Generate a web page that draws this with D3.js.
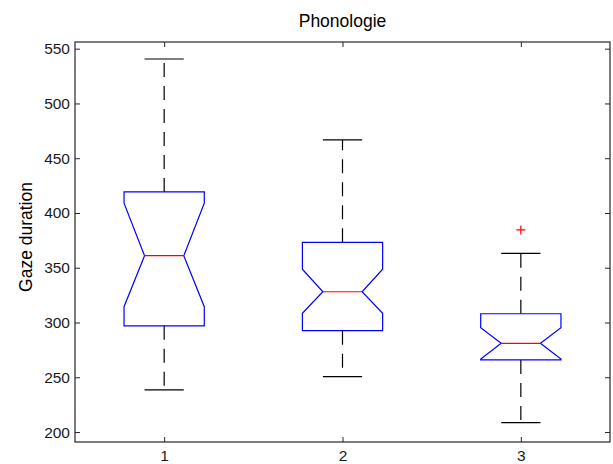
<!DOCTYPE html>
<html><head><meta charset="utf-8">
<script src="https://cdn.jsdelivr.net/npm/d3@7"></script>
<style>body{margin:0;background:#fff;} svg{display:block;}</style>
</head><body>
<svg id="c" width="613" height="464"></svg>
<script>
const categories = [1, 2, 3];
const q1 = [297, 292.5, 265.8];
const q3 = [419.2, 373.2, 308];
const medians = [361, 328.1, 281];
const notchLo = [314.4, 308.4, 266.7];
const notchHi = [408.9, 348.6, 295.3];
const whiskerLo = [238.4, 250.5, 208.5];
const whiskerHi = [540.6, 466.7, 363.2];
const outliers = [[], [], [384.5]];
const yTicks = [200, 250, 300, 350, 400, 450, 500, 550];
const title = "Phonologie";
const yLabel = "Gaze duration";

const svg = d3.select("#c");
const L = 75, R = 610, T = 42, B = 442;
const x = d3.scaleLinear().domain([0.5, 3.5]).range([L, R]);
const y = d3.scaleLinear().domain([190.9, 556.1]).range([B, T]);
const boxW = 0.225, notchW = 0.11, capW = 0.11;
const font = "'Liberation Sans', Arial, sans-serif";

svg.append("rect").attr("width", 613).attr("height", 464).attr("fill", "#fff");

// axes
const axisColor = "#262626";
const gL = svg.append("g").attr("transform", `translate(${L},0)`)
  .call(d3.axisLeft(y).tickValues(yTicks).tickSizeInner(-5).tickSizeOuter(0).tickPadding(5));
const gR = svg.append("g").attr("transform", `translate(${R},0)`)
  .call(d3.axisRight(y).tickValues(yTicks).tickSizeInner(-5).tickSizeOuter(0).tickFormat(""));
const gB = svg.append("g").attr("transform", `translate(0,${B})`)
  .call(d3.axisBottom(x).tickValues(categories).tickSizeInner(-5).tickSizeOuter(0).tickPadding(8).tickFormat(d3.format("d")));
const gT = svg.append("g").attr("transform", `translate(0,${T})`)
  .call(d3.axisTop(x).tickValues(categories).tickSizeInner(-5).tickSizeOuter(0).tickFormat(""));
[gL, gR, gB, gT].forEach(g => {
  g.selectAll(".domain").remove();
  g.selectAll("line").attr("stroke", axisColor);
  g.selectAll("text").attr("fill", "#1a1a1a").style("font-family", font).style("font-size", "15.5px");
});
svg.append("rect").attr("x", L).attr("y", T).attr("width", R - L).attr("height", B - T)
  .attr("fill", "none").attr("stroke", axisColor).attr("stroke-width", 1.2);

// boxes
categories.forEach((c, i) => {
  const g = svg.append("g");
  // whiskers
  g.append("line").attr("x1", x(c)).attr("x2", x(c)).attr("y1", y(q3[i])).attr("y2", y(whiskerHi[i]))
    .attr("stroke", "#000").attr("stroke-width", 1.2).attr("stroke-dasharray", "14,9");
  g.append("line").attr("x1", x(c)).attr("x2", x(c)).attr("y1", y(q1[i])).attr("y2", y(whiskerLo[i]))
    .attr("stroke", "#000").attr("stroke-width", 1.2).attr("stroke-dasharray", "14,9");
  // caps
  [whiskerHi[i], whiskerLo[i]].forEach(v => {
    g.append("line").attr("x1", x(c - capW)).attr("x2", x(c + capW)).attr("y1", y(v)).attr("y2", y(v))
      .attr("stroke", "#000").attr("stroke-width", 1.2);
  });
  // notched box
  const pts = [
    [c - boxW, q3[i]], [c + boxW, q3[i]], [c + boxW, notchHi[i]], [c + notchW, medians[i]],
    [c + boxW, notchLo[i]], [c + boxW, q1[i]], [c - boxW, q1[i]], [c - boxW, notchLo[i]],
    [c - notchW, medians[i]], [c - boxW, notchHi[i]]
  ];
  g.append("path").attr("d", d3.line().x(d => x(d[0])).y(d => y(d[1]))(pts) + "Z")
    .attr("fill", "none").attr("stroke", "#0000ff").attr("stroke-width", 1.2);
  // median
  g.append("line").attr("x1", x(c - notchW)).attr("x2", x(c + notchW)).attr("y1", y(medians[i])).attr("y2", y(medians[i]))
    .attr("stroke", "#ff0000").attr("stroke-width", 1.2);
  // outliers
  outliers[i].forEach(v => {
    const cx = x(c), cy = y(v), s = 4.5;
    g.append("path").attr("d", `M${cx - s},${cy}H${cx + s}M${cx},${cy - s}V${cy + s}`)
      .attr("stroke", "#ff0000").attr("stroke-width", 1.2).attr("fill", "none");
  });
});

// title & labels
svg.append("text").attr("x", (L + R) / 2).attr("y", 27).attr("text-anchor", "middle")
  .style("font-family", font).style("font-size", "17.5px").attr("fill", "#000").text(title);
svg.append("text").attr("transform", `translate(32,${(T + B) / 2 - 5}) rotate(-90)`).attr("text-anchor", "middle")
  .style("font-family", font).style("font-size", "17.5px").attr("fill", "#000").text(yLabel);
</script>
</body></html>
